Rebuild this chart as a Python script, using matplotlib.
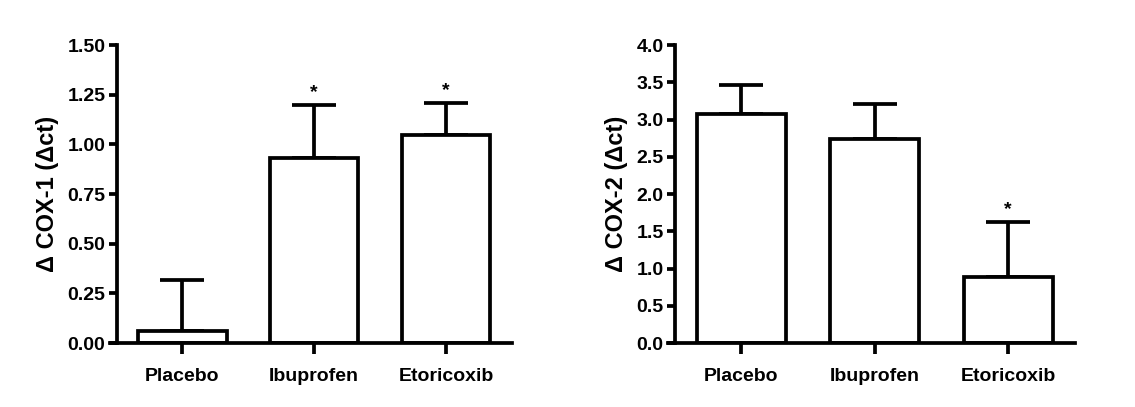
import numpy as np
import matplotlib
matplotlib.use("Agg")
import matplotlib.pyplot as plt

plt.rcParams['font.family'] = ['Liberation Sans', 'DejaVu Sans']
plt.rcParams['font.weight'] = 'bold'

groups = ["Placebo", "Ibuprofen", "Etoricoxib"]

cox1_mean = [0.06, 0.93, 1.05]
cox1_sem = [0.26, 0.27, 0.16]
cox1_sig = [False, True, True]

cox2_mean = [3.08, 2.74, 0.89]
cox2_sem = [0.38, 0.47, 0.74]
cox2_sig = [False, False, True]


def draw_panel(ax, means, sems, sig, ymax, step, fmt, ylabel, star_pad):
    x = np.arange(len(groups))
    lw = 2.7
    ax.bar(x, means, 0.67, color='white', edgecolor='black', linewidth=lw, zorder=2)
    ax.errorbar(x, means, yerr=[np.zeros(len(sems)), sems], fmt='none',
                ecolor='black', elinewidth=lw, capsize=16, capthick=lw, zorder=1)
    for i in range(len(groups)):
        if sig[i]:
            ax.text(x[i], means[i] + sems[i] + star_pad, '*', ha='center', va='bottom',
                    fontsize=14, fontweight='bold')
    ax.set_xlim(-0.55, 2.5)
    ax.set_ylim(0, ymax)
    ax.spines['left'].set_position(('data', -0.5))
    ax.spines['top'].set_visible(False)
    ax.spines['right'].set_visible(False)
    ax.spines['left'].set_linewidth(lw)
    ax.spines['bottom'].set_linewidth(lw)
    ticks = np.arange(0, ymax + step / 2, step)
    ax.set_yticks(ticks)
    ax.set_yticklabels([fmt.format(v) for v in ticks])
    ax.set_xticks(x)
    ax.set_xticklabels(groups)
    ax.tick_params(axis='y', length=6, width=lw, labelsize=14, pad=2)
    ax.tick_params(axis='x', length=8, width=lw, labelsize=14, pad=10)
    ax.set_ylabel(ylabel, fontsize=17, fontweight='bold', labelpad=6)


fig = plt.figure(figsize=(11.35, 4.07), dpi=100)
ax1 = fig.add_axes([0.0969, 0.157, 0.354, 0.732])
ax2 = fig.add_axes([0.5885, 0.157, 0.3586, 0.732])

draw_panel(ax1, cox1_mean, cox1_sem, cox1_sig, 1.5, 0.25, '{:.2f}',
           'Δ COX-1 (Δct)', 0.02)
draw_panel(ax2, cox2_mean, cox2_sem, cox2_sig, 4.0, 0.5, '{:.1f}',
           'Δ COX-2 (Δct)', 0.05)

fig.savefig('out.png', dpi=100, facecolor='white')
